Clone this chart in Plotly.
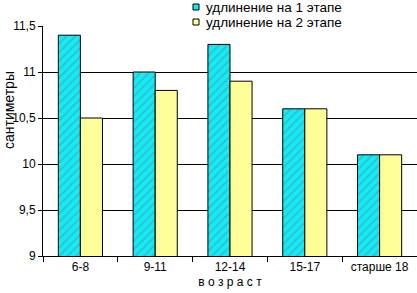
import plotly.graph_objects as go

categories = ["6-8", "9-11", "12-14", "15-17", "старше 18"]
stage1 = [11.4, 11.0, 11.3, 10.6, 10.1]
stage2 = [10.5, 10.8, 10.9, 10.6, 10.1]
series_names = ["удлинение на 1 этапе", "удлинение на 2 этапе"]
series_colors = ["#14eded", "#ffff99"]
y_ticks = [9, 9.5, 10, 10.5, 11, 11.5]
x_title = "в о з р а с т"
y_title = "сантиметры"

font = "Liberation Sans, Arial, sans-serif"
W, H = 417, 293
ML, MR, MT, MB = 43, 0, 26, 37
PW, PH = W - ML - MR, H - MT - MB


def px_x(x):
    return (x - ML) / PW


def px_y(y):
    return (H - MB - y) / PH


fig = go.Figure()
fig.add_trace(go.Bar(
    x=categories, y=stage1, name=series_names[0],
    marker=dict(color=series_colors[0], line=dict(color="black", width=1),
                pattern=dict(shape="/", fgcolor="#3aaedc", bgcolor=series_colors[0],
                             size=6, solidity=0.3, fgopacity=0.8)),
))
fig.add_trace(go.Bar(
    x=categories, y=stage2, name=series_names[1],
    marker=dict(color=series_colors[1], line=dict(color="black", width=1)),
))

shapes = [
    # white legend box covering the top gridline
    dict(type="rect", xref="paper", yref="paper", layer="between",
         x0=px_x(157), x1=1.0, y0=px_y(30), y1=px_y(0),
         fillcolor="white", line=dict(width=0)),
]
annotations = []
for i, (name, col) in enumerate(zip(series_names, series_colors)):
    cy = 7 + 15 * i
    shapes.append(dict(type="rect", xref="paper", yref="paper", layer="above",
                       x0=px_x(193), x1=px_x(199), y0=px_y(cy + 3), y1=px_y(cy - 3),
                       fillcolor=col, line=dict(color="black", width=1)))
    annotations.append(dict(text=name, xref="paper", yref="paper",
                            x=px_x(204), y=px_y(cy), xanchor="left", yanchor="middle",
                            showarrow=False, font=dict(size=13.5, family=font)))

annotations.append(dict(text=y_title, xref="paper", yref="paper",
                        x=px_x(9), y=px_y(110), xanchor="center", yanchor="middle",
                        textangle=-90, showarrow=False,
                        font=dict(size=14, family=font)))

fig.update_layout(
    width=W, height=H,
    margin=dict(l=ML, r=MR, t=MT, b=MB, autoexpand=False),
    paper_bgcolor="white", plot_bgcolor="white",
    font=dict(family=font, size=12, color="black"),
    separators=", ",
    barmode="group", bargap=0.41, bargroupgap=0,
    showlegend=False,
    shapes=shapes, annotations=annotations,
    xaxis=dict(
        title=dict(text=x_title, font=dict(size=12), standoff=4),
        tickson="boundaries", ticks="outside", ticklen=5, tickcolor="black",
        showline=True, linecolor="black", linewidth=1,
        showgrid=False, tickfont=dict(size=12),
    ),
    yaxis=dict(
        range=[9, 11.5], tickvals=y_ticks, ticks="outside", ticklen=4,
        tickcolor="black", showline=True, linecolor="black", linewidth=1,
        showgrid=True, gridcolor="black", gridwidth=1, zeroline=False,
        tickfont=dict(size=12),
    ),
)

fig.write_html("out.html", config={"displayModeBar": False},
               post_script="document.body.style.margin='0';")
